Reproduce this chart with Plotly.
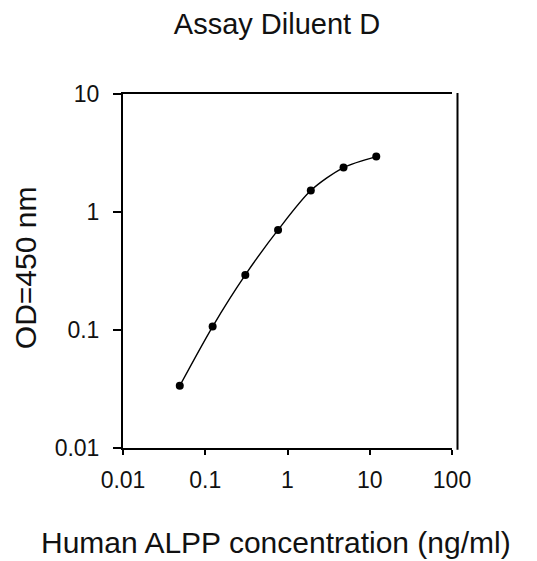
import plotly.graph_objects as go

concentration = [0.049, 0.123, 0.307, 0.768, 1.92, 4.8, 12.0]
od450 = [0.0337, 0.107, 0.293, 0.705, 1.52, 2.38, 2.95]

x_ticks = [0.01, 0.1, 1, 10, 100]
x_tick_labels = ["0.01", "0.1", "1", "10", "100"]
y_ticks = [0.01, 0.1, 1, 10]
y_tick_labels = ["0.01", "0.1", "1", "10"]

font = "Liberation Sans, Arial, sans-serif"
ink = "#111"

W, H = 529, 553  # page adds an 8px body margin
L, T = 114.7, 86
PW, PH = 329, 354.3
R = W - L - PW
B = H - T - PH


def px_x(px):  # page pixel -> paper x
    return (px - 8 - L) / PW


def px_y(py):  # page pixel -> paper y
    return (T + PH - (py - 8)) / PH


fig = go.Figure()
fig.add_trace(go.Scatter(
    x=concentration, y=od450,
    mode="lines+markers",
    line=dict(color="black", width=1.4, shape="spline", smoothing=0.8),
    marker=dict(color="black", size=8, symbol="circle"),
    showlegend=False,
))

axis_common = dict(
    showgrid=False, zeroline=False, showline=True, linecolor="black", linewidth=2,
    tickwidth=1.5, tickcolor="black", ticks="outside",
    tickfont=dict(family=font, size=23, color=ink),
)

fig.update_xaxes(type="log", range=[-2, 2], tickvals=x_ticks, ticktext=x_tick_labels,
                 mirror=True, ticklen=5, ticklabelstandoff=5, **axis_common)
fig.update_yaxes(type="log", range=[-2, 1], tickvals=y_ticks, ticktext=y_tick_labels,
                 mirror=False, ticklen=8, ticklabelstandoff=9, **axis_common)

fig.add_shape(type="line", xref="paper", yref="paper",
              x0=1 + 5.5 / PW, x1=1 + 5.5 / PW, y0=-0.005, y1=1.003,
              line=dict(color="black", width=2))

fig.add_annotation(text="Human ALPP concentration (ng/ml)", xref="paper", yref="paper",
                   x=px_x(275.6), y=px_y(542.5), xanchor="center", yanchor="middle",
                   showarrow=False, font=dict(family=font, size=30, color=ink))
fig.add_annotation(text="OD=450 nm", xref="paper", yref="paper", textangle=-90,
                   x=px_x(26), y=px_y(268), xanchor="center", yanchor="middle",
                   showarrow=False, font=dict(family=font, size=30, color=ink))

fig.update_layout(
    width=W, height=H,
    margin=dict(l=L, r=R, t=T, b=B),
    paper_bgcolor="white", plot_bgcolor="white",
    title=dict(text="Assay Diluent D", x=(277 - 8) / W, xanchor="center",
               y=1 - (24 - 8) / H, yanchor="middle",
               font=dict(family=font, size=29, color=ink)),
)

fig.write_html("out.html")
